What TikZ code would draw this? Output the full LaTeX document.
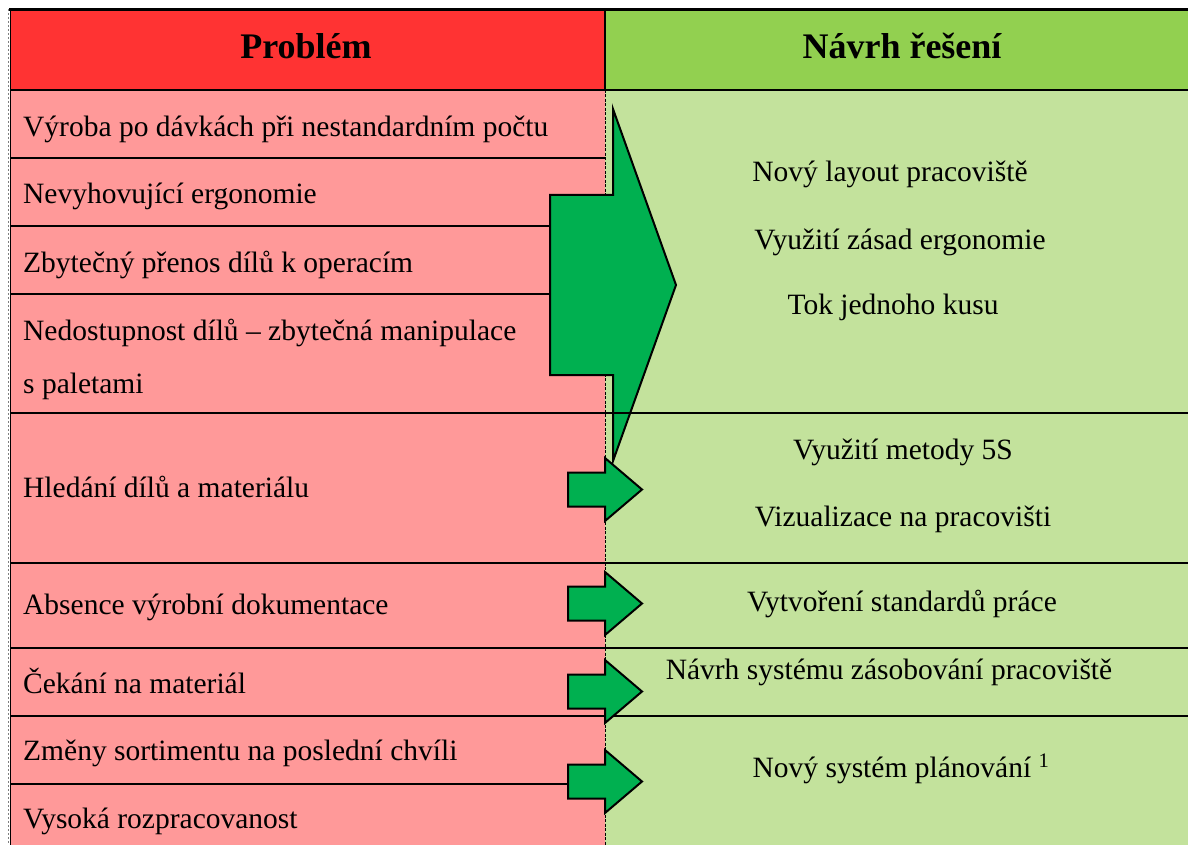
\documentclass[tikz,border=0pt]{standalone}
\usepackage{fontspec}
\setmainfont{Liberation Serif}
\definecolor{hdrred}{HTML}{FF3333}
\definecolor{hdrgreen}{HTML}{92D050}
\definecolor{cellpink}{HTML}{FF9999}
\definecolor{cellgreen}{HTML}{C3E29C}
\definecolor{arrowgreen}{HTML}{00B050}

\begin{document}
\begin{tikzpicture}[x=1pt,y=-1pt,
  rule/.style={line width=2.4pt},
  divider/.style={line width=1pt, dash pattern=on 3pt off 1.5pt},
  blockarrow/.style={fill=arrowgreen, draw=black, line width=2pt, line join=miter},
  lefttext/.style={anchor=base west, inner sep=0pt, font=\fontsize{29.5}{35}\selectfont},
  righttext/.style={anchor=base, inner sep=0pt, font=\fontsize{29.5}{35}\selectfont},
  headtext/.style={anchor=base, inner sep=0pt, font=\fontsize{36}{42}\selectfont\bfseries}]
\useasboundingbox (0,0) rectangle (1188,845);
\fill[white] (0,0) rectangle (1188,845);

% cell backgrounds
\fill[hdrred]    (10,10)  rectangle (605,90);
\fill[hdrgreen]  (605,10) rectangle (1188,90);
\fill[cellpink]  (10,90)  rectangle (605,845);
\fill[cellgreen] (605,90) rectangle (1188,845);

% frame
\draw[line width=3.5pt] (9,9.5) -- (1188,9.5);
\draw[line width=1.8pt] (10.5,9) -- (10.5,845);
\draw[line width=1.2pt, gray, dash pattern=on 2pt off 2pt] (8.3,9) -- (8.3,845);
\draw[line width=2.8pt] (10,90) -- (1188,90);
\draw[line width=1.6pt] (605,10) -- (605,90);
\draw[divider] (605,90) -- (605,845);

% row rules of the left column
\foreach \y in {158,226,294,784} \draw[rule] (10,\y) -- (605,\y);
% row rules across both columns
\foreach \y in {563,648,716} \draw[rule] (10,\y) -- (1188,\y);

% large block arrow for the first group
\draw[blockarrow] (550,195) -- (613,195) -- (613,109) -- (676,285)
  -- (613,461) -- (613,375) -- (550,375) -- cycle;
% small block arrows
\foreach \c in {489.5,603.5,691.5,781.5}
  \draw[blockarrow] (568,\c-17) -- (605,\c-17) -- (605,\c-31.5) -- (642,\c)
    -- (605,\c+31.5) -- (605,\c+17) -- (568,\c+17) -- cycle;

\draw[rule] (10,413) -- (1188,413);

% header texts
\node[headtext] (hp) at (306,59) {Problém};
\node[headtext] (hr) at (902,59) {Návrh řešení};

% problems
\node[lefttext] (p1) at (23,137) {Výroba po dávkách při nestandardním počtu};
\node[lefttext] (p2) at (23,204) {Nevyhovující ergonomie};
\node[lefttext] (p3) at (23,272) {Zbytečný přenos dílů k operacím};
\node[lefttext] (p4a) at (23,340) {Nedostupnost dílů – zbytečná manipulace};
\node[lefttext] (p4b) at (23,393) {s paletami};
\node[lefttext] (p5) at (23,497) {Hledání dílů a materiálu};
\node[lefttext] (p6) at (23,614) {Absence výrobní dokumentace};
\node[lefttext] (p7) at (23,693) {Čekání na materiál};
\node[lefttext] (p8) at (23,760) {Změny sortimentu na poslední chvíli};
\node[lefttext] (p9) at (23,828) {Vysoká rozpracovanost};

% proposed solutions
\node[righttext] (s1) at (890,182) {Nový layout pracoviště};
\node[righttext] (s2) at (900,249) {Využití zásad ergonomie};
\node[righttext] (s3) at (893,314) {Tok jednoho kusu};
\node[righttext] (s4) at (903,459) {Využití metody 5S};
\node[righttext] (s5) at (903,526) {Vizualizace na pracovišti};
\node[righttext] (s6) at (902,611) {Vytvoření standardů práce};
\node[righttext] (s7) at (889,679) {Návrh systému zásobování pracoviště};
\node[righttext] (s8) at (901,777) {Nový systém plánování \textsuperscript{1}};
\end{tikzpicture}
\end{document}
